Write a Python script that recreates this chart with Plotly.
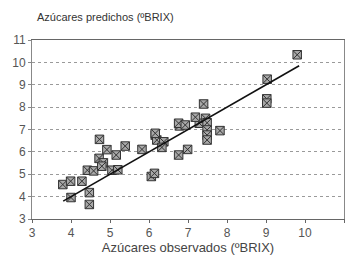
import plotly.graph_objects as go

# Observed vs predicted sugars (ºBRIX)
observados = [3.79, 3.99, 4.28, 4.00, 4.47, 4.47, 4.42, 4.58, 4.73, 4.72, 4.83, 4.79,
              4.92, 5.16, 5.39, 5.05, 5.20, 5.82, 6.06, 6.14, 6.16, 6.20, 6.16, 6.38,
              6.33, 6.78, 6.76, 6.93, 6.76, 6.99, 7.29, 7.19, 7.45, 7.49, 7.49, 7.49,
              7.49, 7.82, 7.40, 9.02, 9.02, 9.03, 9.80]
predichos = [4.54, 4.69, 4.69, 3.96, 4.18, 3.65, 5.18, 5.15, 6.56, 5.71, 5.51, 5.36,
             6.10, 5.86, 6.26, 5.18, 5.20, 6.11, 4.90, 5.04, 6.75, 6.53, 6.83, 6.45,
             6.20, 7.16, 7.28, 7.20, 5.86, 6.11, 7.28, 7.55, 7.50, 7.30, 6.98, 6.75,
             6.53, 6.95, 8.14, 8.37, 8.18, 9.25, 10.34]

# Regression line end points
linea_x = [3.80, 9.85]
linea_y = [3.80, 9.85]

tick_vals = [3, 4, 5, 6, 7, 8, 9, 10, 11]

fig = go.Figure()
fig.add_trace(go.Scatter(
    x=observados, y=predichos, mode="markers",
    marker=dict(symbol="square-x", size=8.5, color="#a8a8a8",
                line=dict(color="#333333", width=1)),
    showlegend=False, cliponaxis=False))
fig.add_trace(go.Scatter(
    x=linea_x, y=linea_y, mode="lines",
    line=dict(color="#111111", width=1.6), showlegend=False))

fig.update_layout(
    width=350, height=262,
    margin=dict(l=32, r=6, t=40, b=43, autoexpand=False),
    paper_bgcolor="white", plot_bgcolor="white",
    font=dict(family="Liberation Sans, Arial, sans-serif", color="#555555"),
    annotations=[dict(text="Azúcares predichos (ºBRIX)", xref="paper", yref="paper",
                      x=0.01, y=1.0, yshift=23, xanchor="left", yanchor="middle",
                      showarrow=False, font=dict(size=11, color="#333333"))],
)
fig.update_xaxes(
    range=[3, 11], tickvals=tick_vals, showgrid=False, zeroline=False,
    automargin=False,
    showline=True, linecolor="#666666", linewidth=1, mirror=True,
    ticks="outside", ticklen=3, tickcolor="#666666",
    tickfont=dict(size=12, color="#555555"),
    title=dict(text="Azúcares observados (ºBRIX)", font=dict(size=13, color="#444444"),
               standoff=2))
fig.update_yaxes(
    range=[3, 11], tickvals=tick_vals, showgrid=True, gridcolor="#9a9a9a",
    griddash="dot", gridwidth=1, zeroline=False,
    automargin=False,
    showline=True, linecolor="#888888", linewidth=1, mirror=True,
    ticks="outside", ticklen=3, tickcolor="#888888",
    tickfont=dict(size=12, color="#555555"))

fig.write_html("out.html", config={"displayModeBar": False},
               post_script="document.body.style.margin='0';document.body.style.overflow='hidden';")
